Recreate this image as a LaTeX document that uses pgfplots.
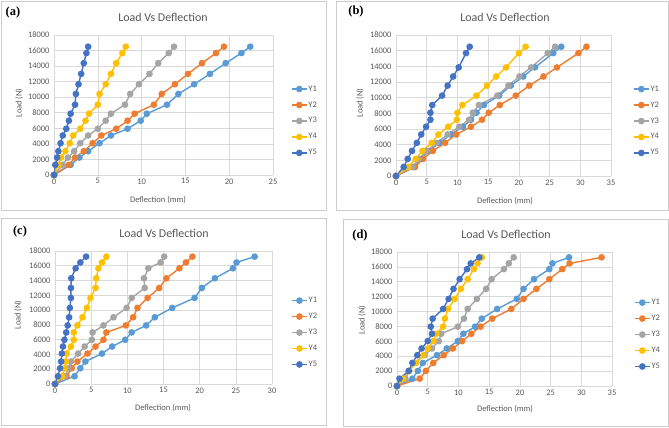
\documentclass[border=0pt]{standalone}
\usepackage{pgfplots}
\usepackage{pgfplotstable}
\pgfplotsset{compat=1.18}
\usepackage{fontspec}
\setmainfont{Carlito}
\newfontfamily\serifb{Liberation Serif}
\definecolor{c1}{RGB}{91,155,213}
\definecolor{c2}{RGB}{237,125,49}
\definecolor{c3}{RGB}{165,165,165}
\definecolor{c4}{RGB}{255,192,0}
\definecolor{c5}{RGB}{68,114,196}
\definecolor{gridc}{RGB}{217,217,217}
\definecolor{txtc}{RGB}{89,89,89}
\definecolor{boxc}{RGB}{205,205,205}

\pgfplotstableread{
L Y1 Y2 Y3 Y4 Y5
0 0 0 0 0 0
1300 1.9 1.7 1.0 0.5 0.15
2240 2.9 2.4 1.6 0.8 0.35
3060 3.9 3.4 2.3 1.3 0.5
4090 5.2 4.4 3.0 1.8 0.75
5080 6.5 5.4 3.9 2.2 1.0
5950 8.4 7.1 5.0 3.0 1.4
6980 9.9 8.4 5.9 3.6 1.7
7880 10.6 9.2 6.5 4.0 1.9
9040 12.9 11.4 8.1 5.0 2.4
10420 14.2 12.3 8.7 5.2 2.5
11670 16.0 13.8 9.7 5.9 2.8
13000 17.8 15.3 10.9 6.5 3.1
14380 19.6 16.9 11.9 7.1 3.4
15680 21.4 18.5 13.1 7.8 3.7
16500 22.4 19.4 13.7 8.2 3.9
}\tabA

\pgfplotstableread{
L Y1 Y2 Y3 Y4 Y5
0 0 0 0 0 0
1150 2.9 3.1 2.7 2.0 1.25
2180 4.1 4.4 3.7 3.2 1.9
3200 5.3 6.0 5.0 4.3 2.6
4230 7.1 8.0 6.6 5.8 3.4
5300 8.9 9.8 8.4 6.9 4.1
6290 10.9 12.2 10.3 8.5 4.9
7180 12.2 14.0 11.9 9.9 5.6
8080 13.1 15.1 12.5 10.0 5.6
9060 14.3 16.9 13.5 10.8 5.9
10260 16.8 19.5 16.5 13.1 7.5
11540 18.7 21.7 18.3 14.8 8.4
12700 20.7 24.0 20.1 16.3 9.3
13860 22.6 26.2 22.0 17.9 10.2
15690 25.6 29.7 24.7 20.0 11.4
16500 26.9 31.0 25.9 21.1 12.0
}\tabB

\pgfplotstableread{
L Y1 Y2 Y3 Y4 Y5
0 0 0 0 0 0
1050 2.7 1.6 1.4 1.0 0.4
2130 3.5 2.3 1.85 1.3 0.7
3040 4.2 3.1 2.2 1.5 0.85
4120 6.5 4.5 3.2 1.6 0.95
5070 7.9 5.6 4.1 2.2 1.1
5980 9.7 6.7 5.1 2.6 1.3
6980 10.6 7.1 5.2 2.6 1.55
7930 12.6 9.8 6.7 3.1 1.75
9030 13.8 10.8 8.1 3.8 1.95
10300 16.2 11.4 9.9 4.4 2.05
11650 19.3 12.8 10.6 4.9 2.2
13000 20.3 14.4 12.4 5.6 2.2
14310 22.1 15.4 12.3 5.7 2.25
15660 24.6 17.2 12.9 6.0 2.85
16450 25.1 18.1 14.6 6.5 3.5
17240 27.6 19.0 15.1 7.1 4.3
}\tabC

\pgfplotstableread{
L Y1 Y2 Y3 Y4 Y5
0 0 0 0 0 0
990 2.5 3.7 1.35 1.0 0.4
2030 3.4 4.7 2.0 2.0 1.9
3100 4.2 5.9 2.8 3.1 2.5
4140 6.5 7.6 4.5 4.3 3.3
5040 8.1 9.1 5.7 5.0 4.0
6030 9.9 10.6 6.8 5.9 5.0
7020 10.8 12.1 7.2 6.4 5.7
7970 12.7 13.6 9.9 7.5 5.5
9050 13.8 15.5 10.9 7.8 5.8
10350 16.3 18.6 11.5 8.3 7.5
11700 19.5 20.6 13.0 9.4 8.4
13050 20.6 22.7 14.5 10.4 9.2
14350 22.3 24.8 15.4 11.5 10.2
15700 24.8 26.9 17.4 12.5 11.4
16470 25.3 28.1 18.2 13.1 12.0
17280 28.0 33.3 19.0 13.8 13.4
}\tabD

\pgfplotsset{
 panel/.style={scale only axis, xmin=0, ymin=0, ymax=18000,
  ytick={0,2000,4000,6000,8000,10000,12000,14000,16000,18000},
  grid=major, major grid style={draw=gridc, line width=0.6bp},
  axis line style={draw=none}, major tick length=0pt,
  ticklabel style={font=\fontsize{8.5}{9}\selectfont, text=txtc},
  yticklabel style={xshift=-1bp},
  /pgf/number format/assume math mode=true,
  /pgf/number format/1000 sep={},
  scaled y ticks=false,
  legend style={draw=none, fill=none, font=\fontsize{8.5}{9}\selectfont, text=txtc,
     row sep=7bp, nodes={inner sep=1bp}},
  legend cell align=left,
  legend image code/.code={\draw[mark repeat=2,mark phase=2,#1] plot coordinates {(0bp,0bp) (7.5bp,0bp) (15bp,0bp)};},
  every axis plot/.append style={line width=1.4bp, mark=*, mark size=2.6bp, mark options={solid}},
 }
}

\newcommand{\series}[1]{%
  \addplot[c1] table[x=Y1,y=L]{#1};
  \addplot[c2] table[x=Y2,y=L]{#1};
  \addplot[c3] table[x=Y3,y=L]{#1};
  \addplot[c4] table[x=Y4,y=L]{#1};
  \addplot[c5] table[x=Y5,y=L]{#1};
  \legend{Y1,Y2,Y3,Y4,Y5}}

\begin{document}
\begin{tikzpicture}[x=1bp,y=1bp]
\path[use as bounding box, fill=white] (0,0) rectangle (669,427);
\draw[boxc, line width=0.7bp] (1,426) rectangle (326,217);
\draw[boxc, line width=0.7bp] (336,426) rectangle (668,217);
\draw[boxc, line width=0.7bp] (1,209) rectangle (326,2);
\draw[boxc, line width=0.7bp] (343,208) rectangle (668,1);

% (a)
\begin{axis}[panel, at={(54bp,252bp)}, anchor=south west, width=219bp, height=140bp,
  xmax=25, xtick={0,5,10,15,20,25},
  legend style={at={(1.068,0.386)}, anchor=west}]
\series{\tabA}
\end{axis}
% (b)
\begin{axis}[panel, at={(396bp,251bp)}, anchor=south west, width=215bp, height=141bp,
  xmax=35, xtick={0,5,10,15,20,25,30,35},
  legend style={at={(1.088,0.39)}, anchor=west}]
\series{\tabB}
\end{axis}
% (c)
\begin{axis}[panel, at={(55bp,43bp)}, anchor=south west, width=217bp, height=133bp,
  xmax=30, xtick={0,5,10,15,20,25,30},
  legend style={at={(1.074,0.387)}, anchor=west}]
\series{\tabC}
\end{axis}
% (d)
\begin{axis}[panel, at={(397bp,41bp)}, anchor=south west, width=215bp, height=134bp,
  xmax=35, xtick={0,5,10,15,20,25,30,35},
  legend style={at={(1.088,0.384)}, anchor=west}]
\series{\tabD}
\end{axis}

% titles
\begin{scope}[every node/.style={text=txtc, font=\fontsize{12}{14}\selectfont}]
\node at (163,410) {Load Vs Deflection};
\node at (505,410) {Load Vs Deflection};
\node at (164,194) {Load Vs Deflection};
\node at (506,193) {Load Vs Deflection};
\end{scope}
% axis labels
\begin{scope}[every node/.style={text=txtc, font=\fontsize{8.5}{9}\selectfont}]
\node at (158,227) {Deflection (mm)};
\node at (505,226) {Deflection (mm)};
\node at (163,19) {Deflection (mm)};
\node at (505,18) {Deflection (mm)};
\node[rotate=90] at (19,324) {Load (N)};
\node[rotate=90] at (360,324) {Load (N)};
\node[rotate=90] at (18,112) {Load (N)};
\node[rotate=90] at (362,107) {Load (N)};
\end{scope}
% panel letters
\begin{scope}[every node/.style={font=\serifb\bfseries\fontsize{12.5}{14}\selectfont}]
\node at (13,414) {(a)};
\node at (356,415) {(b)};
\node at (20,195) {(c)};
\node at (360,191) {(d)};
\end{scope}
\end{tikzpicture}
\end{document}
